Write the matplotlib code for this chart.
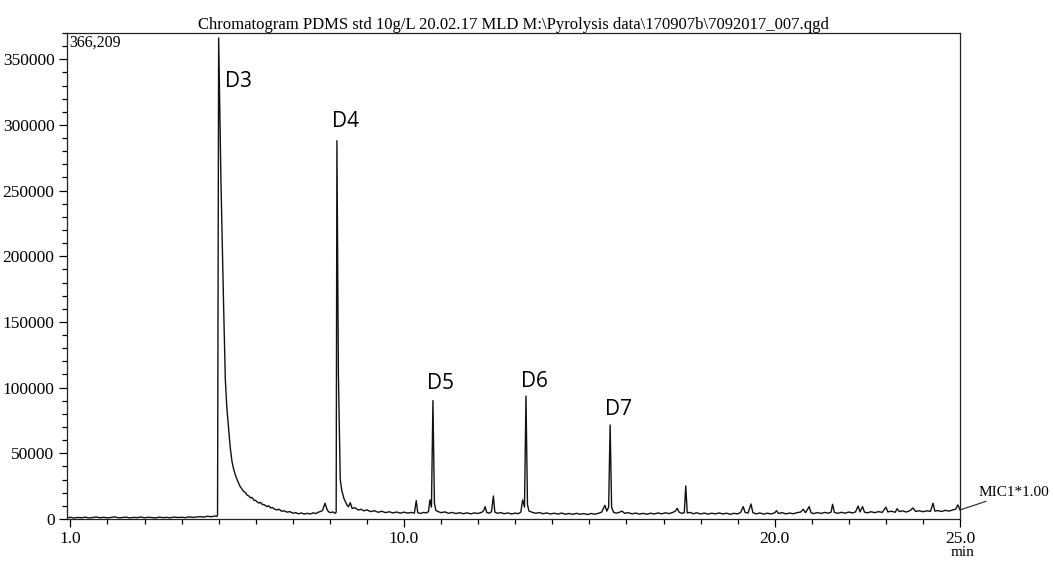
import numpy as np
import matplotlib.pyplot as plt
from matplotlib.ticker import FixedLocator, MultipleLocator, FormatStrFormatter

plt.rcParams['font.family'] = ['Liberation Serif', 'DejaVu Serif']

#%% Data (retention time in min, intensity in counts)
seg_pre = [(0.92, 900), (1.0, 1300), (1.1, 700), (1.2, 1200), (1.3, 900), (1.4, 1400),
           (1.5, 800), (1.6, 1100), (1.7, 1500), (1.8, 900), (1.9, 1300), (2.0, 800),
           (2.1, 1200), (2.2, 1600), (2.3, 900), (2.4, 1100), (2.5, 1400), (2.6, 800),
           (2.7, 1200), (2.8, 1000), (2.9, 1500), (3.0, 900), (3.1, 1300), (3.2, 1100),
           (3.3, 800), (3.4, 1400), (3.5, 1000), (3.6, 1200), (3.7, 900), (3.8, 1500),
           (3.9, 1100), (4.0, 1300), (4.1, 1000), (4.2, 1600), (4.3, 1200), (4.4, 1500),
           (4.5, 1800), (4.6, 1400), (4.7, 2100), (4.8, 1700), (4.9, 2300), (4.95, 1900)]

seg_d3 = [(4.97, 3000), (5.0, 366209), (5.06, 260000), (5.13, 166700), (5.18, 105800),
          (5.22, 85000), (5.27, 67800), (5.31, 55000), (5.36, 43600), (5.40, 38500),
          (5.45, 33500), (5.50, 29800), (5.55, 26500), (5.58, 24600), (5.62, 23200),
          (5.67, 21000), (5.72, 20200), (5.76, 18300), (5.81, 17600), (5.86, 16100),
          (5.90, 16400), (5.95, 14300), (6.0, 14100), (6.03, 13200), (6.08, 12100),
          (6.13, 12600), (6.18, 11000), (6.23, 10900), (6.30, 9400), (6.35, 10100),
          (6.40, 8400), (6.45, 8700), (6.50, 7600), (6.57, 6900), (6.63, 7400),
          (6.70, 5900), (6.77, 6200), (6.84, 5200), (6.92, 5600), (7.01, 4300),
          (7.08, 4900), (7.15, 3900), (7.23, 4600), (7.31, 3700), (7.39, 4300),
          (7.47, 3800), (7.55, 4700), (7.62, 4100), (7.69, 5200), (7.74, 5600),
          (7.80, 6400), (7.87, 12000), (7.92, 7500), (7.96, 5600), (8.02, 4800),
          (8.08, 5400), (8.14, 4300)]

seg_d4 = [(8.17, 5200), (8.19, 288000), (8.23, 110000), (8.28, 30000), (8.32, 22000),
          (8.38, 15500), (8.46, 10700), (8.50, 9300), (8.55, 12400), (8.60, 8000),
          (8.68, 8600), (8.76, 6800), (8.84, 7400), (8.92, 6200), (9.0, 6900),
          (9.1, 5600), (9.2, 6300), (9.3, 5100), (9.4, 5900), (9.5, 4800), (9.6, 5500),
          (9.7, 4600), (9.8, 5300), (9.9, 4400), (10.0, 5200), (10.1, 4500), (10.2, 5000),
          (10.28, 4400), (10.33, 14000), (10.37, 4800), (10.45, 4200), (10.52, 5000),
          (10.6, 4600), (10.66, 5600), (10.70, 14500)]

seg_d5 = [(10.74, 9000), (10.78, 90100), (10.82, 12000), (10.86, 6500), (10.92, 5600),
          (11.0, 4800), (11.1, 5400), (11.2, 4300), (11.3, 5000), (11.4, 4100),
          (11.5, 4800), (11.6, 4000), (11.7, 4700), (11.8, 3900), (11.9, 4600),
          (12.0, 4200), (12.1, 5100), (12.15, 6500), (12.19, 9400), (12.23, 5000),
          (12.3, 4400), (12.36, 5600), (12.41, 17500), (12.45, 5200), (12.52, 4300),
          (12.6, 4900), (12.7, 4000), (12.8, 4600), (12.9, 3800), (13.0, 4500),
          (13.08, 4000), (13.15, 5200), (13.20, 14500)]

seg_d6 = [(13.25, 9000), (13.29, 93600), (13.33, 11000), (13.37, 6000), (13.45, 5200),
          (13.55, 4300), (13.65, 4900), (13.75, 4000), (13.85, 4600), (13.95, 3800),
          (14.05, 4400), (14.15, 3700), (14.25, 4500), (14.35, 3600), (14.45, 4200),
          (14.55, 3500), (14.65, 4300), (14.75, 3600), (14.85, 4100), (14.95, 3400),
          (15.05, 4200), (15.15, 3600), (15.25, 4400), (15.33, 5200), (15.42, 10400),
          (15.47, 6000)]

seg_d7 = [(15.52, 9000), (15.56, 71600), (15.60, 9000), (15.65, 5200), (15.72, 4400),
          (15.8, 5000), (15.88, 6000), (15.95, 4300), (16.05, 4800), (16.15, 3900),
          (16.25, 4500), (16.35, 3700), (16.45, 4300), (16.55, 3600), (16.65, 4400),
          (16.75, 3800), (16.85, 4600), (16.95, 3900), (17.05, 4700), (17.15, 4100),
          (17.25, 5000), (17.32, 6000), (17.37, 8100), (17.42, 5200), (17.5, 4300),
          (17.56, 4800)]

seg_late = [(17.60, 25100), (17.64, 4600), (17.72, 5000), (17.8, 4000), (17.9, 4700),
            (18.0, 3800), (18.1, 4500), (18.2, 3700), (18.3, 4400), (18.4, 3900),
            (18.5, 4600), (18.6, 3800), (18.7, 4400), (18.8, 3600), (18.9, 4300),
            (19.0, 3900), (19.08, 5000), (19.15, 9400), (19.2, 5000), (19.28, 4500),
            (19.36, 11400), (19.41, 4800), (19.5, 3900), (19.6, 4600), (19.7, 3700),
            (19.8, 4400), (19.9, 3800), (20.0, 4700), (20.05, 6300), (20.1, 4200),
            (20.2, 4800), (20.3, 3900), (20.4, 4500), (20.5, 4000), (20.6, 4800),
            (20.7, 5300), (20.77, 7400), (20.83, 4800), (20.93, 9400), (20.98, 4700),
            (21.05, 4100), (21.15, 4900), (21.25, 4200), (21.35, 5000), (21.45, 4400),
            (21.52, 5200), (21.56, 11200), (21.61, 5000), (21.7, 4300), (21.8, 5100),
            (21.9, 4400), (22.0, 5300), (22.1, 4600), (22.18, 5400), (22.25, 9900),
            (22.3, 5400), (22.37, 9400), (22.42, 5200), (22.5, 4700), (22.6, 5500),
            (22.7, 4800), (22.8, 5600), (22.9, 5000), (23.0, 9000), (23.05, 5400),
            (23.15, 5900), (23.25, 5100), (23.3, 7800), (23.36, 5600), (23.45, 6200),
            (23.55, 5300), (23.65, 6400), (23.73, 8400), (23.8, 5700), (23.9, 6300),
            (24.0, 5500), (24.1, 6200), (24.2, 5800), (24.27, 12000), (24.32, 6000),
            (24.4, 6400), (24.5, 5700), (24.6, 6600), (24.7, 6000), (24.8, 6800),
            (24.88, 7500), (24.94, 10700), (25.0, 6900)]

# peak labels and where they sit
peak_names = ['D3', 'D4', 'D5', 'D6', 'D7']
label_t = [5.18, 8.05, 10.61, 13.15, 15.42]
label_y = [328900, 298700, 98700, 100700, 79200]

max_label = '366,209'
title = r'Chromatogram PDMS std 10g/L 20.02.17 MLD M:\Pyrolysis data\170907b\7092017_007.qgd'

#%% Plotting
segments = [seg_pre, seg_d3, seg_d4, seg_d5, seg_d6, seg_d7, seg_late]
rt = np.array([p[0] for s in segments for p in s])
counts = np.array([p[1] for s in segments for p in s])

fig = plt.figure(figsize=(10.54, 5.61), dpi=100)
ax = fig.add_axes([0.0636, 0.0749, 0.8473, 0.8663])

ax.plot(rt, counts, color='#111111', lw=1.0)

ax.set_xlim(0.91, 25.0)
ax.set_ylim(0, 370000)

ax.xaxis.set_major_locator(FixedLocator([1, 10, 20, 25]))
ax.xaxis.set_major_formatter(FormatStrFormatter('%.1f'))
ax.xaxis.set_minor_locator(MultipleLocator(1))
ax.yaxis.set_major_locator(MultipleLocator(50000))
ax.yaxis.set_minor_locator(MultipleLocator(10000))
ax.tick_params(which='major', direction='out', length=6, width=0.9, labelsize=12.5, pad=3)
ax.tick_params(which='minor', direction='out', length=3.5, width=0.9)
for sp in ax.spines.values():
    sp.set_linewidth(0.9)
    sp.set_color('#222222')

ax.set_title(title, fontsize=12, pad=2)
ax.text(0.003, 0.997, max_label, transform=ax.transAxes, ha='left', va='top', fontsize=11.5)

for name, t, y in zip(peak_names, label_t, label_y):
    ax.text(t, y, name, family=['Open Sans', 'DejaVu Sans'], fontsize=15, ha='left', va='baseline')

ax.annotate('MIC1*1.00', xy=(25.0, 6900), xytext=(25.5, 20500), fontsize=11,
            ha='left', va='center', annotation_clip=False,
            arrowprops=dict(arrowstyle='-', lw=0.8, color='#222222', shrinkA=0, shrinkB=0))
fig.text(963 / 1054, 1 - 553 / 561, 'min', ha='center', va='center', fontsize=11)

fig.savefig('out.png', dpi=100)
